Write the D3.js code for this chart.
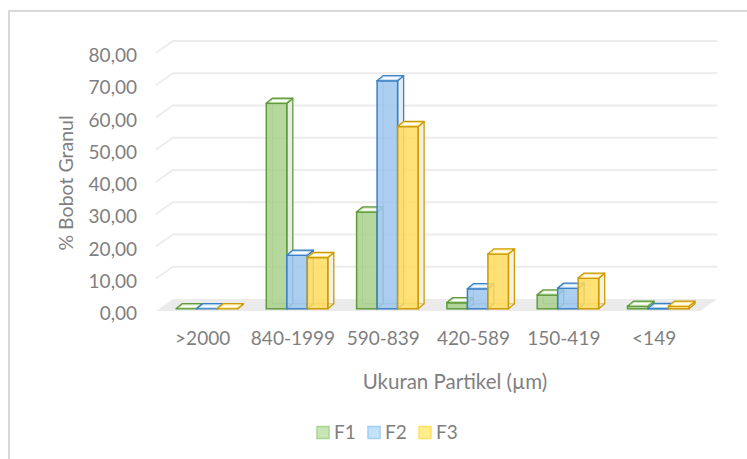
<!DOCTYPE html>
<html>
<head>
<meta charset="utf-8">
<script src="https://cdn.jsdelivr.net/npm/d3@7"></script>
<style>
  html, body { margin: 0; padding: 0; background: #fff; }
  svg { display: block; }
  text { font-family: Lato, "Open Sans", sans-serif; fill: #7f7f7f; }
</style>
</head>
<body>
<svg id="chart" width="747" height="459"></svg>
<script>
// Particle size classes and granule weight percentage per formula
const categories = [">2000", "840-1999", "590-839", "420-589", "150-419", "<149"];
const seriesNames = ["F1", "F2", "F3"];
const f1 = [0.0, 63.7, 30.0, 1.9, 4.3, 0.8];
const f2 = [0.0, 16.6, 70.7, 6.2, 6.4, 0.1];
const f3 = [0.0, 15.9, 56.5, 17.0, 9.5, 0.8];
const yTicks = [0, 10, 20, 30, 40, 50, 60, 70, 80];

const seriesValues = [f1, f2, f3];
const palette = {
  F1: { face: "#a9d18e", edge: "#5f9b3c", side: "#e6eee1", top: "#f6faf3", key: "#c8e5b6", keyEdge: "#a9d68f" },
  F2: { face: "#9dc7ee", edge: "#3a80c4", side: "#e4edf5", top: "#f4f8fc", key: "#c2e2f9", keyEdge: "#9fd0f6" },
  F3: { face: "#ffdc5e", edge: "#cc9a06", side: "#f5f1e2", top: "#fffbee", key: "#ffee8a", keyEdge: "#ffe066" }
};

const svg = d3.select("#chart");

// chart area frame
svg.append("rect")
  .attr("x", 9).attr("y", 11)
  .attr("width", 760).attr("height", 470)
  .attr("fill", "none").attr("stroke", "#d9d9d9").attr("stroke-width", 2);

// oblique 3D geometry: front plane, back wall, bar plane
const wallDX = 17.3, wallDY = 12;
const floorLeft = 155.7, floorRight = 700;
const yFront = d3.scaleLinear().domain([0, 80]).range([311, 53]);
const yBack = d3.scaleLinear().domain([0, 80]).range([311 - wallDY, 53 - wallDY]);
const yBar = d3.scaleLinear().domain([0, 80]).range([308.8, 308.8 - 258]);

const x = d3.scaleBand().domain(categories).range([157.5, 699.3]).padding(0);
const xs = d3.scaleBand().domain(seriesNames).range([18.5, 18.5 + 61.5]).padding(0);
const barDX = 6, barDY = 5;

// floor
svg.append("polygon")
  .attr("points", [
    [floorLeft, yFront(0)], [floorLeft + wallDX, yBack(0)],
    [floorRight + wallDX, yBack(0)], [floorRight, yFront(0)]
  ].map(p => p.join(",")).join(" "))
  .attr("fill", "#ebebeb");

// back wall gridlines with their left-side diagonals
const grid = svg.append("g");
yTicks.filter(t => t > 0).forEach(t => {
  grid.append("polyline")
    .attr("points", [[floorLeft, yFront(t)], [floorLeft + wallDX, yBack(t)], [floorRight + wallDX, yBack(t)]]
      .map(p => p.join(",")).join(" "))
    .attr("fill", "none").attr("stroke", "#ececec").attr("stroke-width", 1.8);
});

// y tick labels
const fmt = v => d3.format(".2f")(v).replace(".", ",");
svg.append("g").selectAll("text").data(yTicks).join("text")
  .attr("x", 137).attr("y", d => yFront(d) + 2.5)
  .attr("dy", "0.35em")
  .attr("text-anchor", "end")
  .style("font-size", "19px")
  .text(fmt);

// bars as transparent 3D boxes
const bars = svg.append("g");
categories.forEach((cat, ci) => {
  seriesNames.forEach((s, si) => {
    const v = seriesValues[si][ci];
    const c = palette[s];
    const x0 = x(cat) + xs(s), w = xs.bandwidth();
    const yt = yBar(v), yb = yBar(0);
    const g = bars.append("g");
    const pts = a => a.map(p => p.join(",")).join(" ");
    // right side face
    g.append("polygon")
      .attr("points", pts([[x0 + w, yt], [x0 + w + barDX, yt - barDY], [x0 + w + barDX, yb - barDY], [x0 + w, yb]]))
      .attr("fill", c.side).attr("stroke", c.edge).attr("stroke-width", 1.3).attr("stroke-linejoin", "round");
    // back edges seen through the face
    g.append("polyline")
      .attr("points", pts([[x0 + barDX, yt - barDY], [x0 + barDX, yb - barDY], [x0 + w + barDX, yb - barDY]]))
      .attr("fill", "none").attr("stroke", c.edge).attr("stroke-opacity", 0.6).attr("stroke-width", 1);
    // front face
    g.append("rect")
      .attr("x", x0).attr("y", yt).attr("width", w).attr("height", Math.max(0, yb - yt))
      .attr("fill", c.face).attr("fill-opacity", 0.85)
      .attr("stroke", c.edge).attr("stroke-width", 1.5);
    // top face
    g.append("polygon")
      .attr("points", pts([[x0, yt], [x0 + barDX, yt - barDY], [x0 + w + barDX, yt - barDY], [x0 + w, yt]]))
      .attr("fill", c.top).attr("stroke", c.edge).attr("stroke-width", 1.5).attr("stroke-linejoin", "round");
    g.append("polygon")
      .attr("points", pts([[x0 + 2.5, yt - 1], [x0 + barDX + 0.5, yt - barDY + 1], [x0 + w + barDX - 2.5, yt - barDY + 1], [x0 + w - 0.5, yt - 1]]))
      .attr("fill", "#fff").attr("stroke", c.face).attr("stroke-width", 0.8);
  });
});

// x category labels
svg.append("g").selectAll("text").data(categories).join("text")
  .attr("x", d => x(d) + x.bandwidth() / 2)
  .attr("y", 338)
  .attr("dy", "0.35em")
  .attr("text-anchor", "middle")
  .style("font-size", "19px")
  .text(d => d);

// axis titles
svg.append("text")
  .attr("transform", "translate(66,183) rotate(-90)")
  .attr("dy", "0.35em")
  .attr("text-anchor", "middle")
  .style("font-size", "19.5px")
  .text("% Bobot Granul");

svg.append("text")
  .attr("x", 455).attr("y", 382)
  .attr("dy", "0.35em")
  .attr("text-anchor", "middle")
  .style("font-size", "20.5px")
  .text("Ukuran Partikel (µm)");

// legend
const legendX = [317, 368, 419];
const legend = svg.append("g");
seriesNames.forEach((s, i) => {
  legend.append("rect")
    .attr("x", legendX[i]).attr("y", 426.5)
    .attr("width", 12).attr("height", 12)
    .attr("fill", palette[s].key).attr("stroke", palette[s].keyEdge).attr("stroke-width", 1.5);
  legend.append("text")
    .attr("x", legendX[i] + 17).attr("y", 432.5)
    .attr("dy", "0.35em")
    .style("font-size", "19px")
    .text(s);
});
</script>
</body>
</html>
